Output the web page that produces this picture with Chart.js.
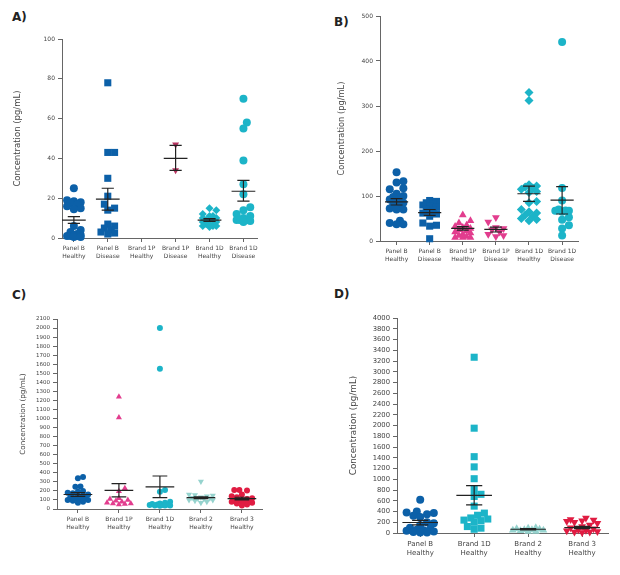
<!DOCTYPE html>
<html><head><meta charset="utf-8">
<script src="https://cdn.jsdelivr.net/npm/chart.js@4.4.1/dist/chart.umd.min.js"></script>
<style>
body{margin:0;background:#fff;width:620px;height:575px;position:relative;overflow:hidden;font-family:"DejaVu Sans",sans-serif}
.p{position:absolute}
.t{position:absolute;font-weight:bold;font-size:12px;color:#222;font-family:"DejaVu Sans",sans-serif}
</style></head><body>
<div class="t" style="left:12px;top:10px">A)</div>
<div class="t" style="left:334px;top:15px">B)</div>
<div class="t" style="left:12px;top:288px">C)</div>
<div class="t" style="left:334px;top:287px">D)</div>
<canvas id="cA" class="p" style="left:0;top:0" width="310" height="285"></canvas>
<canvas id="cB" class="p" style="left:310px;top:0" width="310" height="285"></canvas>
<canvas id="cC" class="p" style="left:0;top:285px" width="310" height="290"></canvas>
<canvas id="cD" class="p" style="left:310px;top:285px" width="310" height="290"></canvas>
<script>
// ---------- Panel A ----------
const aCategories = [["Panel B","Healthy"],["Panel B","Disease"],["Brand 1P","Healthy"],["Brand 1P","Disease"],["Brand 1D","Healthy"],["Brand 1D","Disease"]];
const aPanelBHealthy = [25,19,18.5,18,17.5,17,16,15,14.5,6,4,3,2,1.5,1.5,1,1,1,1,0.5,0.5];
const aPanelBDisease = [78,43,43,30,21,17,15,14,7,6,5,4,3,2.5,2];
const aBrand1PHealthy = [];
const aBrand1PDisease = [47,34];
const aBrand1DHealthy = [15,14,12,11,11,10,10,9,9,9,8,8,7,7,6,6,6,5.5];
const aBrand1DDisease = [70,58,55,39,27,22,15.5,14,12,11,10,9,9,9,8.5,8];
const aMean = [9,19.5,null,40,9,23.5];
const aLow = [7.3,14,null,34,8.3,18.5];
const aHigh = [10.7,25,null,46.5,9.7,29];

// ---------- Panel B ----------
const bCategories = aCategories;
const bPanelBHealthy = [153,133,130,117,115,105,100,98,95,92,88,85,80,75,72,70,70,45,40,37,37];
const bPanelBDisease = [90,88,85,82,80,78,75,70,68,65,62,60,55,40,35,33,5];
const bBrand1PHealthy = [58,45,40,35,32,30,28,25,22,20,18,15,12,10,8,8,8];
const bBrand1PDisease = [52,42,30,28,25,20,15,12,10];
const bBrand1DHealthy = [330,312,125,122,120,118,115,110,108,88,85,70,65,62,58,55,50,48,45];
const bBrand1DDisease = [442,118,90,70,68,67,67,65,53,47,35,28,12];
const bMean = [87,63,28,26,105,91];
const bLow = [80,57,24,20,88,60];
const bHigh = [94,70,32,31,122,121];

// ---------- Panel C ----------
const cCategories = [["Panel B","Healthy"],["Brand 1P","Healthy"],["Brand 1D","Healthy"],["Brand 2","Healthy"],["Brand 3","Healthy"]];
const cPanelBHealthy = [355,340,250,245,200,190,180,175,160,150,140,130,120,115,110,100,100,90,80,70];
const cBrand1PHealthy = [1240,1010,230,195,120,110,100,90,80,70,60,60,55,50];
const cBrand1DHealthy = [2000,1550,210,190,80,70,60,55,50,50,45,45,40,40,40,35];
const cBrand2Healthy = [305,160,155,150,140,130,125,120,115,110,100,100,90,80,70];
const cBrand3Healthy = [210,210,205,160,140,130,120,110,100,100,90,90,80,80,70,60,50,40];
const cMean = [160,205,245,125,115];
const cLow = [140,135,125,115,100];
const cHigh = [180,280,365,135,130];

// ---------- Panel D ----------
const dCategories = [["Panel B","Healthy"],["Brand 1D","Healthy"],["Brand 2","Healthy"],["Brand 3","Healthy"]];
const dPanelBHealthy = [620,400,380,370,350,320,300,200,180,150,100,80,60,50,40,30,20,10,10];
const dBrand1DHealthy = [3270,1950,1420,1230,1010,810,720,680,500,370,330,280,260,240,230,200,120,90,70];
const dBrand2Healthy = [100,90,80,70,60,60,50,50,40,30,30];
const dBrand3Healthy = [280,250,240,230,220,200,180,150,120,100,80,60,50,40,30,20,20,10];
const dMean = [195,700,70,100];
const dLow = [150,525,60,80];
const dHigh = [235,880,80,125];

const BLUE='#0c60a8', CYAN='#1cb4c8', PINK='#e23d8e', MAROON='#b83360', TEAL='#96d3ce', RED='#e01c42';

function swarm(vals, chart, r, spread){
  const ys = chart.scales.y, xs = chart.scales.x;
  const ppu = Math.abs(xs.getPixelForValue(1)-xs.getPixelForValue(0));
  const d = 2*r*0.85;
  const maxOff = spread*ppu;
  const step = Math.max(d*0.5,1);
  const cands=[0];
  for(let k=1;k*step<=maxOff;k++){cands.push(k*step,-k*step);}
  const order = vals.map((v,i)=>i).sort((a,b)=>vals[a]-vals[b]);
  const placed=[]; const out=new Array(vals.length).fill(0);
  for(const i of order){
    const y = ys.getPixelForValue(vals[i]);
    let best=0,bestD=-1;
    for(const c of cands){
      const md = placed.length?Math.min(...placed.map(p=>Math.hypot(p.x-c,p.y-y))):Infinity;
      if(md>=d){best=c;break;}
      if(md>bestD){bestD=md;best=c;}
    }
    placed.push({x:best,y}); out[i]=best/ppu;
  }
  return out;
}

function errData(mean,low,high,mw,cw){
  const pts=[];
  mean.forEach((m,i)=>{
    if(m==null) return;
    pts.push({x:i-mw,y:m},{x:i+mw,y:m},{x:i,y:null});
    pts.push({x:i,y:low[i]},{x:i,y:high[i]},{x:i,y:null});
    pts.push({x:i-cw,y:high[i]},{x:i+cw,y:high[i]},{x:i,y:null});
    pts.push({x:i-cw,y:low[i]},{x:i+cw,y:low[i]},{x:i,y:null});
  });
  return pts;
}

function makePanel(o){
  const datasets=[{
    type:'line', data:errData(o.mean,o.low,o.high,o.mw||0.35,o.cw||0.18),
    borderColor:'#222', borderWidth:1.2, pointRadius:0, spanGaps:false, order:0, clip:false
  }];
  o.groups.forEach((g,i)=>{
    datasets.push({
      type:'scatter', data:g.vals.map(v=>({x:i,y:v})),
      backgroundColor:g.color, borderColor:g.color, pointStyle:g.style,
      pointRadius:g.r, pointRotation:g.rot||0, borderWidth:0, order:1, clip:false
    });
  });
  const fam='"DejaVu Sans", sans-serif';
  const chart=new Chart(document.getElementById(o.id),{
    type:'scatter',
    data:{datasets},
    options:{
      responsive:false, animation:false, devicePixelRatio:1,
      plugins:{legend:{display:false},tooltip:{enabled:false}},
      layout:{padding:{left:o.pl,top:o.top,right:o.W-o.right,bottom:0}},
      scales:{
        x:{type:'linear',min:o.xmin,max:o.xmax,
          afterBuildTicks:s=>{s.ticks=o.cats.map((c,i)=>({value:i}));},
          afterFit:s=>{s.height=o.H-o.bottom;},
          ticks:{callback:(v)=>o.cats[v],color:'#444',font:{family:fam,size:o.catSize,lineHeight:1.3},maxRotation:0,autoSkip:false,padding:3},
          grid:{display:true,drawOnChartArea:false,drawTicks:true,tickLength:4,color:'#666'},
          border:{display:true,color:'#666',width:1}
        },
        y:{min:0,max:o.ymax,
          afterFit:s=>{s.width=o.left-o.pl;},
          ticks:{stepSize:o.step,autoSkip:false,color:'#444',font:{family:fam,size:o.tickSize},padding:3,callback:(v)=>String(v)},
          grid:{display:true,drawOnChartArea:false,drawTicks:true,tickLength:4,color:'#666'},
          border:{display:true,color:'#666',width:1},
          title:{display:true,text:'Concentration (pg/mL)',color:'#444',font:{family:fam,size:o.titleSize},padding:0}
        }
      }
    }
  });
  o.groups.forEach((g,i)=>{
    const offs=swarm(g.vals,chart,g.r*(g.sp||1),o.spread||0.27);
    chart.data.datasets[i+1].data=g.vals.map((v,j)=>({x:i+offs[j],y:v}));
  });
  chart.update('none');
  return chart;
}

makePanel({id:'cA',W:310,H:285,left:62,right:257,top:39,bottom:238,pl:13,xmin:-0.35,xmax:5.4,ymax:100,step:20,
  tickSize:6,catSize:6,titleSize:8.5,cats:aCategories,mean:aMean,low:aLow,high:aHigh,
  groups:[
    {vals:aPanelBHealthy,color:BLUE,style:'circle',r:4},
    {vals:aPanelBDisease,color:BLUE,style:'rect',r:5,sp:0.8},
    {vals:aBrand1PHealthy,color:PINK,style:'triangle',r:4},
    {vals:aBrand1PDisease,color:MAROON,style:'triangle',r:4,rot:180},
    {vals:aBrand1DHealthy,color:CYAN,style:'rectRot',r:4},
    {vals:aBrand1DDisease,color:CYAN,style:'circle',r:4}
  ]});

makePanel({id:'cB',W:310,H:285,left:70,right:268,top:16,bottom:241,pl:27,xmin:-0.5,xmax:5.48,ymax:500,step:100,
  tickSize:6,catSize:6,titleSize:8.3,cats:bCategories,mean:bMean,low:bLow,high:bHigh,
  groups:[
    {vals:bPanelBHealthy,color:BLUE,style:'circle',r:4},
    {vals:bPanelBDisease,color:BLUE,style:'rect',r:5,sp:0.8},
    {vals:bBrand1PHealthy,color:PINK,style:'triangle',r:4.5},
    {vals:bBrand1PDisease,color:PINK,style:'triangle',r:4.5,rot:180},
    {vals:bBrand1DHealthy,color:CYAN,style:'rectRot',r:4.5},
    {vals:bBrand1DDisease,color:CYAN,style:'circle',r:4}
  ]});

makePanel({id:'cC',W:310,H:290,left:57,right:262,top:34,bottom:224,pl:19,xmin:-0.51,xmax:4.49,ymax:2100,step:100,
  tickSize:5.5,catSize:6,titleSize:7.2,cats:cCategories,mean:cMean,low:cLow,high:cHigh,spread:0.3,
  groups:[
    {vals:cPanelBHealthy,color:BLUE,style:'circle',r:3},
    {vals:cBrand1PHealthy,color:PINK,style:'triangle',r:3.5},
    {vals:cBrand1DHealthy,color:CYAN,style:'circle',r:3},
    {vals:cBrand2Healthy,color:TEAL,style:'triangle',r:3.5,rot:180},
    {vals:cBrand3Healthy,color:RED,style:'circle',r:3}
  ]});

makePanel({id:'cD',W:310,H:290,left:87,right:298,top:33,bottom:248,pl:38,xmin:-0.43,xmax:3.48,ymax:4000,step:200,
  tickSize:6.8,catSize:7,titleSize:8.8,cats:dCategories,mean:dMean,low:dLow,high:dHigh,mw:0.33,cw:0.15,spread:0.3,
  groups:[
    {vals:dPanelBHealthy,color:BLUE,style:'circle',r:4},
    {vals:dBrand1DHealthy,color:CYAN,style:'rect',r:5,sp:0.8},
    {vals:dBrand2Healthy,color:TEAL,style:'triangle',r:4.5},
    {vals:dBrand3Healthy,color:RED,style:'triangle',r:4.5,rot:180}
  ]});
</script>
</body></html>
